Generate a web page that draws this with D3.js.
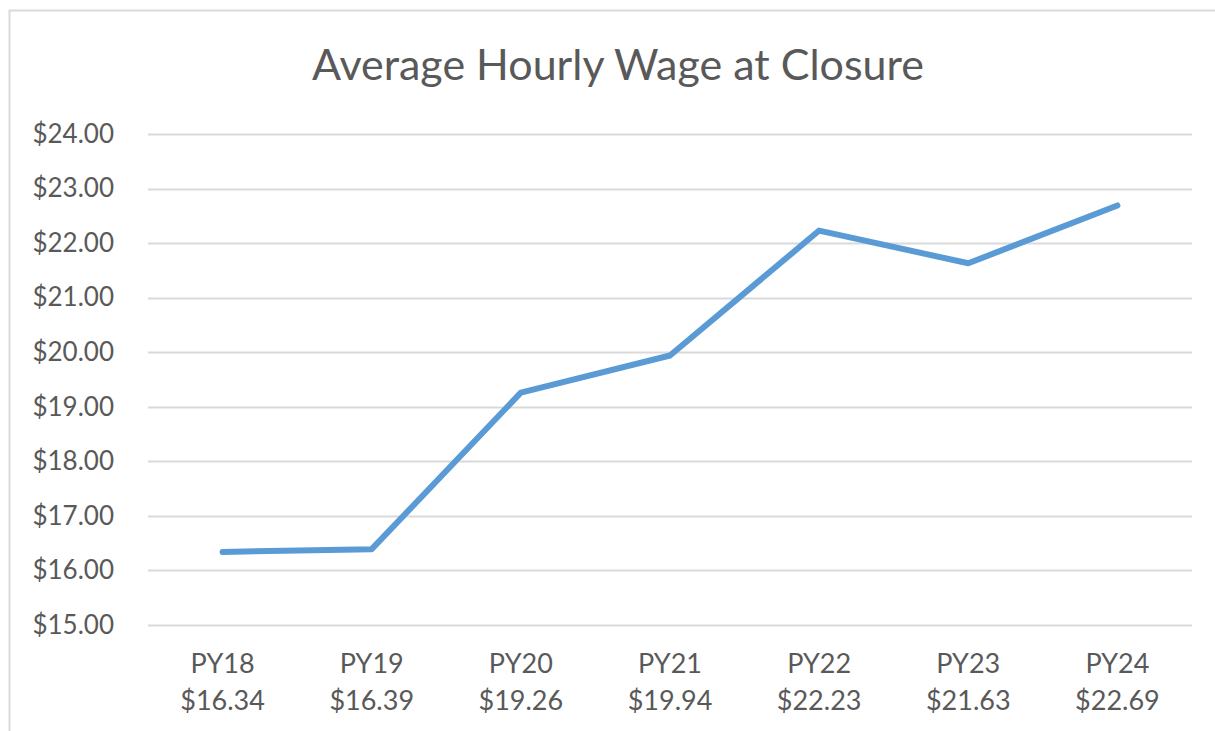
<!DOCTYPE html>
<html>
<head>
<meta charset="utf-8">
<script src="https://cdn.jsdelivr.net/npm/d3@7"></script>
<style>
  body { margin: 0; background: #fff; }
  text { font-family: Lato, "Open Sans", sans-serif; fill: #595959; }
</style>
</head>
<body>
<div id="chart"></div>
<script>
'use strict';

const years = ["PY18", "PY19", "PY20", "PY21", "PY22", "PY23", "PY24"];
const wages = [16.34, 16.39, 19.26, 19.94, 22.23, 21.63, 22.69];
const yTicks = [15, 16, 17, 18, 19, 20, 21, 22, 23, 24];

const width = 1215, height = 731;
const plotLeft = 148, plotRight = 1192, plotTop = 134, plotBottom = 625;

const svg = d3.select("#chart")
    .append("svg")
    .attr("width", width)
    .attr("height", height);

// chart border (only top and left visible in the source crop)
svg.append("path")
    .attr("d", "M9.5," + height + "V10.5H" + width)
    .attr("fill", "none")
    .attr("stroke", "#d9d9d9")
    .attr("stroke-width", 2);

svg.append("text")
    .attr("x", 618)
    .attr("y", 80)
    .attr("text-anchor", "middle")
    .style("font-size", "43px")
    .text("Average Hourly Wage at Closure");

const x = d3.scalePoint()
    .domain(years)
    .range([plotLeft, plotRight])
    .padding(0.5);

const y = d3.scaleLinear()
    .domain([15, 24])
    .range([plotBottom, plotTop]);

// gridlines
svg.append("g")
    .selectAll("line")
    .data(yTicks)
    .enter()
    .append("line")
    .attr("x1", plotLeft)
    .attr("x2", plotRight)
    .attr("y1", d => Math.round(y(d)) + 0.5)
    .attr("y2", d => Math.round(y(d)) + 0.5)
    .attr("stroke", "#d9d9d9")
    .attr("stroke-width", 2);

// y labels
const yAxis = svg.append("g")
    .attr("transform", "translate(" + (plotLeft - 34) + ",0)")
    .call(d3.axisLeft(y).tickValues(yTicks).tickSize(0).tickPadding(0)
        .tickFormat(d => "$" + d3.format(".2f")(d)));
yAxis.select(".domain").remove();
yAxis.selectAll("text")
    .style("font-size", "26px")
    .style("font-family", "Lato, 'Open Sans', sans-serif")
    .attr("fill", "#595959");

// x labels, two lines each
const xLabels = svg.append("g")
    .selectAll("text")
    .data(years)
    .enter()
    .append("text")
    .attr("text-anchor", "middle")
    .style("font-size", "27px")
    .attr("x", d => x(d));

xLabels.append("tspan")
    .attr("x", d => x(d))
    .attr("y", 673)
    .text(d => d);

xLabels.append("tspan")
    .attr("x", d => x(d))
    .attr("y", 710)
    .text((d, i) => "$" + d3.format(".2f")(wages[i]));

const line = d3.line()
    .x((d, i) => x(years[i]))
    .y(d => y(d));

svg.append("path")
    .datum(wages)
    .attr("d", line)
    .attr("fill", "none")
    .attr("stroke", "#5b9bd5")
    .attr("stroke-width", 6)
    .attr("stroke-linecap", "round")
    .attr("stroke-linejoin", "round");
</script>
</body>
</html>
